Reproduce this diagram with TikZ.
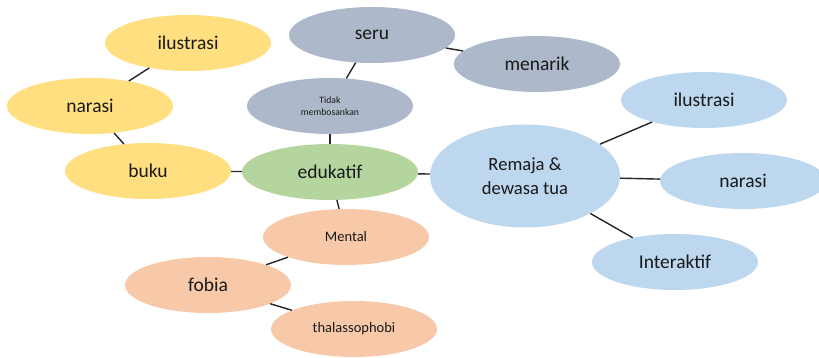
\documentclass[tikz,border=0pt]{standalone}
\usepackage{fontspec}
\setmainfont{Carlito}
\usepackage{xcolor}
\usepackage{tikz}
\usetikzlibrary{shapes.geometric}

\definecolor{kuning}{HTML}{FFDF80}
\definecolor{hijau}{HTML}{B4D69E}
\definecolor{abu}{HTML}{ADB9CA}
\definecolor{biru}{HTML}{BDD7EE}
\definecolor{oranye}{HTML}{F7C9A9}

\begin{document}
\begin{tikzpicture}[x=1pt, y=-1pt,
        bubble/.style={ellipse, inner sep=0pt, minimum width=166pt, minimum height=56pt, font=\fontsize{19.5}{22}\selectfont, text=black!90},
        line/.style={line width=1.4pt, black!85}]
        \useasboundingbox (0, 0) rectangle (819, 358);

        \node[bubble, fill=kuning] at (188, 43) (ilu1) {ilustrasi};
        \node[bubble, fill=kuning] at (90, 106) (nar1) {narasi};
        \node[bubble, fill=kuning] at (148, 171) (buku) {buku};
        \node[bubble, fill=hijau, minimum width=176pt] at (330, 172) (edu) {edukatif};
        \node[bubble, fill=abu, font=\fontsize{9.7}{12}\selectfont, align=center] at (330, 106) (tidak) {Tidak\\membosankan};
        \node[bubble, fill=abu] at (372, 35) (seru) {seru};
        \node[bubble, fill=abu] at (537, 64) (menarik) {menarik};
        \node[bubble, fill=biru, minimum width=190pt, minimum height=103pt, align=center, font=\fontsize{18.6}{24}\selectfont] at (525, 176) (remaja) {Remaja \&\\dewasa tua};
        \node[bubble, fill=biru] at (704, 100) (ilu2) {ilustrasi};
        \node[bubble, fill=biru] at (743, 181) (nar2) {narasi};
        \node[bubble, fill=biru] at (675, 262) (inter) {Interaktif};
        \node[bubble, fill=oranye, font=\fontsize{14.5}{17}\selectfont] at (346, 237) (mental) {Mental};
        \node[bubble, fill=oranye] at (208, 285) (fobia) {fobia};
        \node[bubble, fill=oranye, font=\fontsize{14.5}{17}\selectfont] at (354, 329) (thal) {thalassophobi};

        \draw[line] (ilu1) -- (nar1);
        \draw[line] (nar1) -- (buku);
        \draw[line] (buku) -- (edu);
        \draw[line] (edu) -- (tidak);
        \draw[line] (tidak) -- (seru);
        \draw[line] (seru) -- (menarik);
        \draw[line] (edu) -- (remaja);
        \draw[line] (remaja) -- (ilu2);
        \draw[line] (remaja) -- (nar2);
        \draw[line] (remaja) -- (inter);
        \draw[line] (edu) -- (mental);
        \draw[line] (mental) -- (fobia);
        \draw[line] (fobia) -- (thal);
    \end{tikzpicture}
\end{document}
